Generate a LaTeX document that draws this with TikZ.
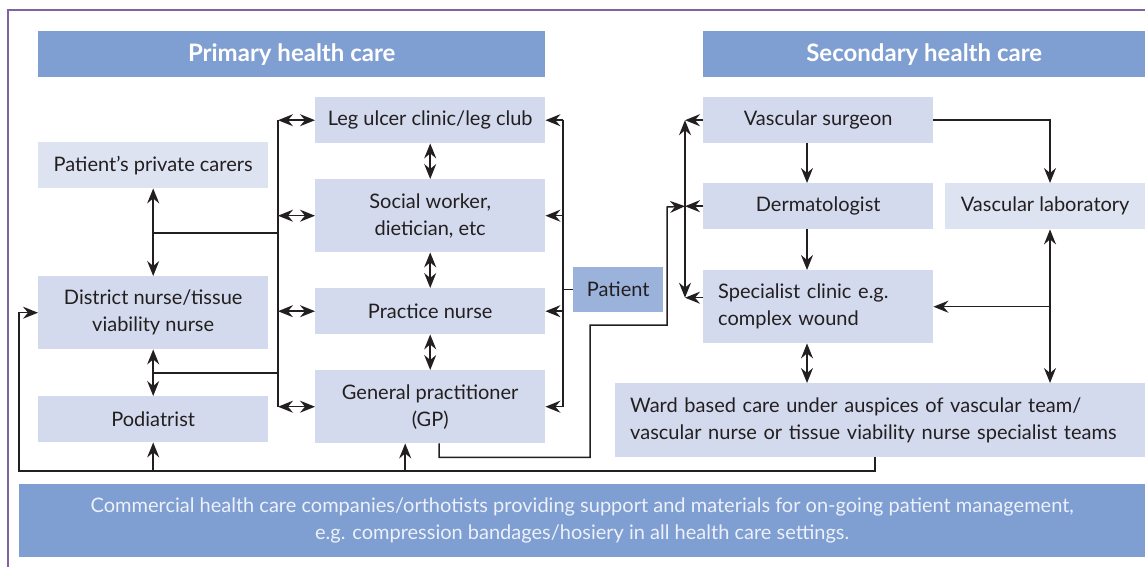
\documentclass[tikz,border=0pt]{standalone}
\usepackage{fontspec}
\setmainfont{Lato}
\usetikzlibrary{arrows.meta}
\definecolor{boxblue}{RGB}{211,218,237}
\definecolor{paleblue}{RGB}{221,227,241}
\definecolor{headblue}{RGB}{127,158,209}
\definecolor{patientblue}{RGB}{155,178,219}
\definecolor{inkgrey}{RGB}{35,31,32}
\definecolor{framepurple}{RGB}{128,100,162}
\definecolor{barText}{RGB}{236,241,250}

\begin{document}
\begin{tikzpicture}[x=1pt,y=-1pt,
  box/.style={fill=boxblue, text=inkgrey, anchor=north west, minimum width=230pt, minimum height=46pt, inner sep=0pt, align=center, font=\fontsize{20}{27}\selectfont},
  tallbox/.style={box, minimum height=73pt},
  head/.style={fill=headblue, text=white, anchor=north west, minimum height=46pt, inner sep=0pt, font=\fontsize{24}{28}\selectfont\bfseries},
  link/.style={draw=inkgrey, line width=1.5pt},
  one/.style={link, -{Stealth[length=15pt,width=12pt,inset=5pt]}},
  both/.style={link, {Stealth[length=15pt,width=12pt,inset=5pt]}-{Stealth[length=15pt,width=12pt,inset=5pt]}}]
\useasboundingbox (0,0) rectangle (1145,566);
\draw[framepurple, line width=1.6pt] (8,580) -- (8,10) -- (1160,10);

\node[head, minimum width=507pt] (primary) at (38,31) {Primary health care};
\node[head, minimum width=442pt] (secondary) at (703,31) {Secondary health care};

\node[box, fill=paleblue] (carers) at (38,142) {Patient’s private carers};
\node[tallbox] (district) at (38,276) {District nurse/tissue\\viability nurse};
\node[box] (podiatrist) at (38,396) {Podiatrist};

\node[box] (leg) at (315,97) {Leg ulcer clinic/leg club};
\node[tallbox] (social) at (315,179) {Social worker,\\dietician, etc};
\node[box] (practice) at (315,288) {Practice nurse};
\node[tallbox] (gp) at (315,370) {General practitioner\\(GP)};

\node[box, fill=patientblue, minimum width=90pt, minimum height=45pt] (patient) at (573,267) {Patient};

\node[box] (surgeon) at (703,97) {Vascular surgeon};
\node[box] (derm) at (703,183) {Dermatologist};
\node[tallbox, align=left, text width=200pt, inner xsep=15pt] (specialist) at (703,270) {Specialist clinic e.g.\\complex wound};
\node[box, fill=paleblue, minimum width=200pt] (lab) at (945,183) {Vascular laboratory};
\node[tallbox, align=left, text width=500pt, inner xsep=15pt, minimum height=74pt] (ward) at (615,383) {Ward based care under auspices of vascular team/\\vascular nurse or tissue viability nurse specialist teams};

\node[box, fill=headblue, text=barText, minimum width=1126pt, minimum height=73pt] (commercial) at (19,484) {Commercial health care companies/orthotists providing support and materials for on-going patient management,\\e.g. compression bandages/hosiery in all health care settings.};

\coordinate (lbus) at (278,0);
\coordinate (rbus) at (563,0);
\coordinate (sbus) at (685,0);
\coordinate (cx) at (807,0);
\coordinate (labx) at (1050,0);
\coordinate (j1) at (153,233);
\coordinate (j2) at (153,373);
\coordinate (loopl) at (19,471);
\coordinate (loopr) at (875,471);
\coordinate (specin) at ([yshift=9pt]specialist.west);
\coordinate (gpup) at ([xshift=-25pt]gp.south);
\coordinate (gpout) at ([xshift=9pt]gp.south);

\draw[link] (lbus |- leg.west) -- (lbus |- gp.west);
\draw[link] (rbus |- leg.east) -- (rbus |- gp.east);
\foreach \n in {leg,social,practice,gp}{
  \draw[both] (lbus |- \n.west) -- (\n.west);
  \draw[one] (rbus |- \n.east) -- (\n.east);
}
\draw[link] (rbus |- patient.west) -- (patient.west);
\draw[both] (leg.south) -- (social.north);
\draw[both] (social.south) -- (practice.north);
\draw[both] (practice.south) -- (gp.north);

\draw[both] (carers.south) -- (district.north);
\draw[both] (district.south) -- (podiatrist.north);
\draw[link] (j1) -- (j1 -| lbus);
\draw[link] (j2) -- (j2 -| lbus);

\draw[one] (loopr |- ward.south) -- (loopr) -- (loopl) |- (district.west);
\draw[one] (podiatrist.south |- loopl) -- (podiatrist.south);
\draw[one] (gpup |- loopl) -- (gpup);

\draw[one] (gpout) -- ++(0,14) -| (590,325) -| (667,207) -- (sbus |- derm.west);

\draw[both] (sbus |- surgeon.west) -- (sbus |- specin);
\draw[one] (surgeon.west) -- (sbus |- surgeon.west);
\draw[one] (derm.west) -- (sbus |- derm.west);
\draw[one] (specin) -- (sbus |- specin);

\draw[one] (cx |- surgeon.south) -- (cx |- derm.north);
\draw[one] (cx |- derm.south) -- (cx |- specialist.north);
\draw[both] (cx |- specialist.south) -- (cx |- ward.north);
\draw[one] (surgeon.east) -| (labx |- lab.north);
\draw[both] (labx |- lab.south) -- (labx |- ward.north);
\draw[one] (specialist.east -| labx) -- (specialist.east);
\end{tikzpicture}
\end{document}
